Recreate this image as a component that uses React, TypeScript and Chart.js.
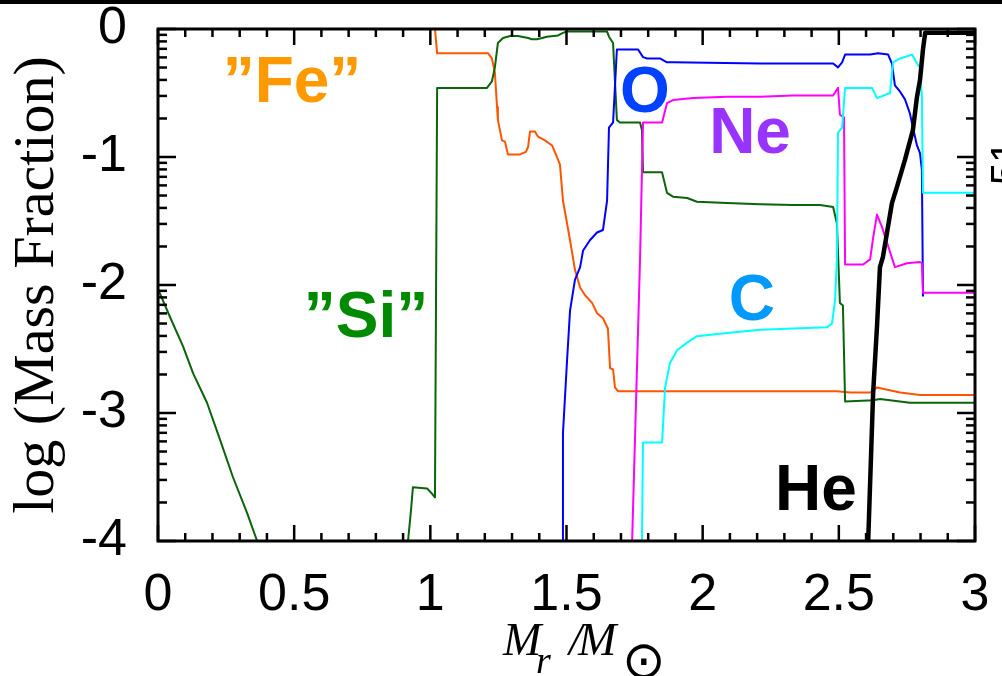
import React, { useEffect, useRef } from "react";
import { Chart, registerables } from "chart.js";
Chart.register(...registerables);

// ---- data (x = Mr/Msun, y = log mass fraction) ----
const feX = [0, 1.017, 1.025, 1.212, 1.226, 1.237, 1.245, 1.248, 1.263, 1.274, 1.285, 1.329, 1.351, 1.359, 1.366, 1.384, 1.395, 1.421, 1.447, 1.465, 1.476, 1.487, 1.513, 1.531, 1.55, 1.568, 1.594, 1.612, 1.634, 1.652, 1.66, 1.671, 1.678, 1.689, 2.493, 2.541, 2.615, 2.64, 2.725, 2.798, 3.0];
const feY = [0, 0, -0.19, -0.19, -0.23, -0.34, -0.61, -0.71, -0.87, -0.88, -0.98, -0.98, -0.96, -0.92, -0.8, -0.8, -0.84, -0.87, -0.91, -1.0, -1.06, -1.34, -1.65, -1.88, -2.02, -2.08, -2.14, -2.22, -2.26, -2.34, -2.65, -2.66, -2.8, -2.83, -2.83, -2.84, -2.84, -2.8, -2.84, -2.86, -2.86];

const siX = [0, 0.044, 0.092, 0.129, 0.18, 0.228, 0.275, 0.327, 0.364, 0.64, 0.918, 0.929, 0.936, 0.988, 1.006, 1.017, 1.025, 1.208, 1.226, 1.237, 1.248, 1.267, 1.293, 1.322, 1.359, 1.373, 1.392, 1.428, 1.469, 1.487, 1.502, 1.649, 1.656, 1.671, 1.685, 1.696, 1.77, 1.777, 1.781, 1.851, 1.869, 1.891, 1.943, 1.979, 2.089, 2.211, 2.332, 2.431, 2.479, 2.493, 2.504, 2.515, 2.523, 2.626, 2.651, 2.761, 3.0];
const siY = [-2.03, -2.25, -2.48, -2.69, -2.92, -3.21, -3.5, -3.78, -4.0, null, -4.0, -3.76, -3.58, -3.59, -3.63, -3.66, -0.46, -0.46, -0.41, -0.3, -0.11, -0.07, -0.055, -0.055, -0.07, -0.08, -0.08, -0.06, -0.05, -0.03, -0.02, -0.02, -0.06, -0.11, -0.71, -0.73, -0.73, -0.79, -1.12, -1.12, -1.28, -1.31, -1.32, -1.35, -1.36, -1.37, -1.375, -1.375, -1.39, -1.52, -2.14, -2.16, -2.91, -2.9, -2.89, -2.92, -2.92];

const oX = [1.484, 1.487, 1.502, 1.513, 1.531, 1.55, 1.561, 1.586, 1.612, 1.634, 1.649, 1.656, 1.671, 1.685, 1.763, 1.781, 1.796, 1.843, 1.869, 1.891, 2.211, 2.431, 2.479, 2.497, 2.512, 2.523, 2.615, 2.644, 2.681, 2.695, 2.706, 2.725, 2.743, 2.761, 2.772, 2.787, 2.798, 2.805, 2.809];
const oY = [-4.0, -3.16, -2.59, -2.2, -1.96, -1.86, -1.73, -1.65, -1.59, -1.57, -1.34, -0.77, -0.73, -0.16, -0.16, -0.22, -0.23, -0.23, -0.26, -0.26, -0.27, -0.27, -0.27, -0.3, -0.26, -0.2, -0.2, -0.19, -0.2, -0.27, -0.44, -0.49, -0.55, -0.66, -0.77, -0.91, -0.97, -1.1, -2.09];

const neX = [1.741, 1.77, 1.781, 1.851, 1.869, 1.891, 1.965, 2.089, 2.211, 2.332, 2.479, 2.497, 2.504, 2.519, 2.523, 2.589, 2.615, 2.626, 2.64, 2.659, 2.677, 2.706, 2.75, 2.798, 2.805, 2.809, 3.0];
const neY = [-4.0, -1.8, -0.73, -0.73, -0.58, -0.555, -0.54, -0.53, -0.53, -0.52, -0.52, -0.46, -0.67, -0.69, -1.84, -1.84, -1.8, -1.63, -1.45, -1.55, -1.67, -1.86, -1.83, -1.82, -1.83, -2.06, -2.06];

const cX = [1.777, 1.781, 1.851, 1.862, 1.88, 1.906, 1.943, 1.979, 2.089, 2.211, 2.332, 2.457, 2.475, 2.486, 2.493, 2.497, 2.512, 2.523, 2.622, 2.64, 2.688, 2.699, 2.725, 2.769, 2.787, 2.798, 2.805, 2.809, 3.0];
const cY = [-4.0, -3.23, -3.23, -2.8, -2.61, -2.51, -2.45, -2.4, -2.375, -2.35, -2.34, -2.33, -2.3, -2.12, -1.8, -0.81, -0.77, -0.46, -0.46, -0.54, -0.5, -0.26, -0.23, -0.2, -0.27, -0.3, -0.53, -1.28, -1.28];

const heX = [2.607, 2.626, 2.64, 2.651, 2.662, 2.695, 2.714, 2.743, 2.772, 2.787, 2.798, 2.809, 2.817, 3.0];
const heY = [-4.05, -2.84, -2.33, -1.86, -1.78, -1.36, -1.23, -1.02, -0.79, -0.53, -0.4, -0.16, -0.03, -0.03];

const xTickLabels = ["0", "0.5", "1", "1.5", "2", "2.5", "3"];
const yTickLabels = ["0", "-1", "-2", "-3", "-4"];

// in-plot species labels (data coordinates of text baseline centre)
const annTexts = ["\u201DFe\u201D", "\u201DSi\u201D", "O", "Ne", "C", "He"];
const annX = [0.492, 0.764, 1.788, 2.174, 2.181, 2.416];
const annY = [-0.57, -2.406, -0.648, -0.969, -2.273, -3.758];
const annColors = ["#ff9900", "#008a00", "#0040ff", "#9933ff", "#0099ff", "#000000"];

const mk = (xs: number[], ys: (number | null)[]) => xs.map((x, i) => ({ x, y: ys[i] }));

const SERIF = "'Liberation Serif', 'Times New Roman', serif";
const SANS = "'Liberation Sans', Arial, sans-serif";

const decor = {
  id: "decor",
  beforeDraw(chart: any) {
    const ctx = chart.ctx;
    ctx.save();
    ctx.fillStyle = "#ffffff";
    ctx.fillRect(0, 0, chart.width, chart.height);
    ctx.fillStyle = "#000000";
    ctx.fillRect(0, 0, chart.width, 4);
    ctx.restore();
  },
  afterDatasetsDraw(chart: any) {
    const { ctx, chartArea: a, scales } = chart;
    const xs = scales.x;
    const ys = scales.y;
    ctx.save();
    ctx.font = "bold 64px " + SANS;
    ctx.textAlign = "center";
    ctx.textBaseline = "alphabetic";
    for (let i = 0; i < annTexts.length; i++) {
      ctx.fillStyle = annColors[i];
      ctx.fillText(annTexts[i], xs.getPixelForValue(annX[i]), ys.getPixelForValue(annY[i]));
    }
    ctx.strokeStyle = "#000";
    ctx.lineWidth = 3;
    ctx.strokeRect(a.left, a.top, a.right - a.left, a.bottom - a.top);
    ctx.lineWidth = 2.5;
    const seg = (x1: number, y1: number, x2: number, y2: number) => {
      ctx.beginPath();
      ctx.moveTo(x1, y1);
      ctx.lineTo(x2, y2);
      ctx.stroke();
    };
    for (let i = 0; i <= 30; i++) {
      const p = xs.getPixelForValue(i / 10);
      const len = i % 5 === 0 ? 16 : 8;
      seg(p, a.bottom, p, a.bottom - len);
      seg(p, a.top, p, a.top + len);
    }
    for (let d = -4; d <= 0; d++) {
      const p = ys.getPixelForValue(d);
      seg(a.left, p, a.left + 18, p);
      seg(a.right, p, a.right - 18, p);
      if (d < 0) {
        for (let k = 2; k <= 9; k++) {
          const q = ys.getPixelForValue(d + Math.log10(k));
          seg(a.left, q, a.left + 9, q);
          seg(a.right, q, a.right - 9, q);
        }
      }
    }
    ctx.restore();
  },
  afterDraw(chart: any) {
    const ctx = chart.ctx;
    ctx.save();
    ctx.fillStyle = "#000";
    ctx.textAlign = "left";
    ctx.textBaseline = "alphabetic";
    // x-axis title  M_r / M_sun
    ctx.font = "italic 46px " + SERIF;
    ctx.fillText("M", 503, 655);
    ctx.font = "italic 38px " + SERIF;
    ctx.fillText("r", 536, 673);
    ctx.font = "italic 46px " + SERIF;
    ctx.fillText("/", 569, 655);
    ctx.fillText("M", 578, 655);
    ctx.font = "52px 'DejaVu Sans', sans-serif";
    ctx.textBaseline = "middle";
    ctx.fillText("\u2299", 622, 664);
    // partial right-hand label
    ctx.font = "40px " + SANS;
    ctx.textBaseline = "alphabetic";
    ctx.translate(1019, 185);
    ctx.rotate(-Math.PI / 2);
    ctx.fillText("51", 0, 0);
    ctx.restore();
  },
};

export default function App() {
  const ref = useRef<HTMLCanvasElement>(null);
  useEffect(() => {
    document.body.style.margin = "0";
    const line = (data: any, color: string, width: number) => ({
      data,
      borderColor: color,
      backgroundColor: color,
      borderWidth: width,
      pointRadius: 0,
      fill: false,
      tension: 0,
      spanGaps: false,
      borderJoinStyle: "round" as const,
    });
    const chart = new Chart(ref.current!, {
      type: "line",
      data: {
        datasets: [
          line(mk(heX, heY), "#000000", 4.5),
          line(mk(cX, cY), "#00ffff", 2),
          line(mk(neX, neY), "#ff00ff", 2),
          line(mk(oX, oY), "#0000ff", 2),
          line(mk(siX, siY), "#0a640a", 2),
          line(mk(feX, feY), "#ff5500", 2),
        ],
      },
      options: {
        animation: false,
        responsive: false,
        devicePixelRatio: 1,
        layout: { padding: { top: 29, right: 27, left: 0, bottom: 0 } },
        plugins: { legend: { display: false }, tooltip: { enabled: false } },
        scales: {
          x: {
            type: "linear",
            min: 0,
            max: 3,
            grid: { display: false, drawTicks: false },
            border: { display: false },
            ticks: {
              stepSize: 0.5,
              padding: 23,
              autoSkip: false,
              maxRotation: 0,
              color: "#000",
              font: { family: SANS, size: 52 },
              callback: (v: any) => xTickLabels[Math.round(Number(v) / 0.5)],
            },
            afterFit: (s: any) => {
              s.height = 135;
              s.paddingLeft = 0;
              s.paddingRight = 0;
            },
          },
          y: {
            type: "linear",
            min: -4,
            max: 0,
            grid: { display: false, drawTicks: false },
            border: { display: false },
            ticks: {
              stepSize: 1,
              padding: 31,
              color: "#000",
              font: { family: SANS, size: 52 },
              callback: (v: any) => yTickLabels[Math.round(-Number(v))],
            },
            title: {
              display: true,
              text: "log (Mass Fraction)",
              color: "#000",
              font: { family: SERIF, size: 58 },
              padding: { top: 3, bottom: 0 },
            },
            afterFit: (s: any) => {
              s.width = 158;
              s.paddingTop = 0;
              s.paddingBottom = 0;
            },
          },
        },
      } as any,
      plugins: [decor],
    });
    return () => chart.destroy();
  }, []);
  return (
    <div style={{ width: 1002, height: 676, position: "relative" }}>
      <canvas ref={ref} width={1002} height={676} style={{ display: "block" }} />
    </div>
  );
}
